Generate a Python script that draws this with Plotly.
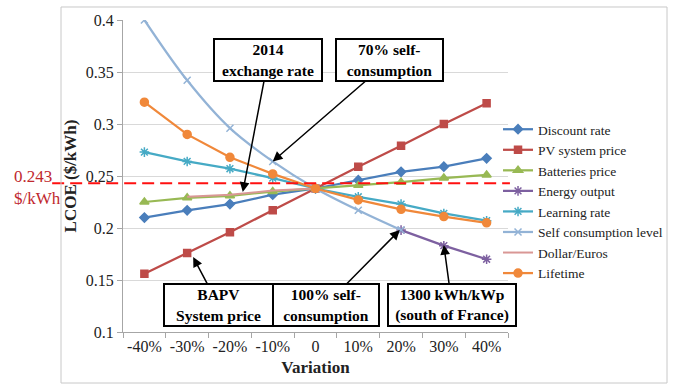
import plotly.graph_objects as go

categories = ["-40%", "-30%", "-20%", "-10%", "0", "10%", "20%", "30%", "40%"]

discount_rate = [0.210, 0.217, 0.223, 0.232, 0.238, 0.246, 0.254, 0.259, 0.267]
pv_system_price = [0.156, 0.176, 0.196, 0.217, 0.238, 0.259, 0.279, 0.300, 0.320]
batteries_price = [0.225, 0.229, 0.231, 0.235, 0.238, 0.241, 0.244, 0.248, 0.251]
energy_output = [None, None, None, None, None, None, 0.198, 0.183, 0.170]
learning_rate = [0.273, 0.264, 0.257, 0.248, 0.238, 0.230, 0.223, 0.214, 0.207]
self_consumption = [0.400, 0.342, 0.296, 0.264, 0.238, 0.217, 0.198, None, None]
dollar_euros = [None, 0.230, 0.232, 0.236, 0.238, None, None, None, None]
lifetime = [0.321, 0.290, 0.268, 0.252, 0.238, 0.227, 0.218, 0.211, 0.205]

reference_value = 0.243
reference_label = "0.243<br>$/kWh"

FONT = "Times New Roman"

series = [
    ("Discount rate", discount_rate, "#4A7EBB", "diamond", "linear", 7),
    ("PV system price", pv_system_price, "#BE4B48", "square", "linear", 7),
    ("Batteries price", batteries_price, "#98B954", "triangle-up", "linear", 8),
    ("Energy output", energy_output, "#7D60A0", "asterisk-open", "linear", 8),
    ("Learning rate", learning_rate, "#46AAC5", "asterisk-open", "linear", 8),
    ("Self consumption level", self_consumption, "#93B3D6", "x-thin-open", "spline", 7),
    ("Dollar/Euros", dollar_euros, "#D99795", None, "linear", 0),
    ("Lifetime", lifetime, "#F0883A", "circle", "linear", 8),
]

fig = go.Figure()
for name, vals, color, sym, shape, msize in series:
    if sym is None:
        fig.add_trace(go.Scatter(x=categories, y=vals, name=name, mode="lines",
                                 line=dict(color=color, width=2, shape=shape)))
    else:
        fig.add_trace(go.Scatter(x=categories, y=vals, name=name, mode="lines+markers",
                                 line=dict(color=color, width=2.25, shape=shape),
                                 marker=dict(symbol=sym, size=msize, color=color,
                                             line=dict(color=color, width=1.5))))

# reference line
fig.add_shape(type="line", xref="paper", yref="y", x0=-0.184, x1=1.005,
              y0=reference_value, y1=reference_value,
              line=dict(color="#FF1010", width=2, dash="12px,6px"), layer="above")

# outer frame
fig.add_shape(type="rect", xref="paper", yref="paper", x0=-0.161, x1=1.413,
              y0=-0.1635, y1=1.0417, line=dict(color="#C8C8C8", width=1))

fig.add_annotation(text=reference_label, xref="paper", yref="y", x=-0.288,
                   y=reference_value, xanchor="left", yanchor="middle", yshift=-4,
                   showarrow=False, align="left",
                   font=dict(family=FONT, size=17, color="#C0282E"))

boxes = [
    ("<b>2014<br>exchange rate</b>", 2.30, 0.2346, 2.89, 0.3615, 106),
    ("<b>70% self-<br>consumption</b>", 3.0, 0.264, 5.74, 0.3615, 105),
    ("<b>BAPV<br>System price</b>", 1.14, 0.172, 1.73, 0.126, 107),
    ("<b>100% self-<br>consumption</b>", 5.97, 0.198, 4.24, 0.126, 104),
    ("<b>1300 kWh/kWp<br>(south of France)</b>", 7.0, 0.1837, 7.19, 0.126, 126),
]
for text, tx, ty, bx, by, w in boxes:
    fig.add_annotation(text=text, x=tx, y=ty, ax=bx, ay=by, xref="x", yref="y",
                       axref="x", ayref="y", showarrow=True, arrowhead=2,
                       arrowsize=1.3, arrowwidth=1.5, arrowcolor="black",
                       bordercolor="black", borderwidth=2, borderpad=0,
                       bgcolor="white", width=w, height=40,
                       font=dict(family=FONT, size=15.5, color="black"))

fig.update_layout(
    width=673, height=385,
    margin=dict(l=123, r=165, t=20, b=53, autoexpand=False),
    paper_bgcolor="white", plot_bgcolor="white",
    font=dict(family=FONT, color="#222222"),
    showlegend=True,
    legend=dict(xref="container", yref="container", x=0.740, y=0.704,
                xanchor="left", yanchor="top",
                font=dict(family=FONT, size=13.5, color="#222222"),
                bgcolor="rgba(0,0,0,0)", itemwidth=30, tracegroupgap=0),
    xaxis=dict(type="category", range=[-0.5, len(categories) - 0.5],
               tickson="boundaries", ticks="outside", ticklen=5,
               tickangle=0, automargin=False,
               tickcolor="#A6A6A6", showline=True, linecolor="#A6A6A6",
               showgrid=False, tickfont=dict(family=FONT, size=16, color="#222222"),
               title=dict(text="<b>Variation</b>", font=dict(family=FONT, size=17, color="#222222"),
                          standoff=6)),
    yaxis=dict(range=[0.1, 0.4], dtick=0.05, ticks="outside", ticklen=5,
               automargin=False,
               tickcolor="#A6A6A6", showline=True, linecolor="#A6A6A6",
               showgrid=True, gridcolor="#D9D9D9", zeroline=False,
               tickfont=dict(family=FONT, size=16, color="#222222"),
               title=dict(text="<b>LCOE ($/kWh)</b>", font=dict(family=FONT, size=17, color="#222222"),
                          standoff=4)),
)

fig.write_html("out.html", post_script="document.body.style.margin='0';",
               config={"displayModeBar": False})
